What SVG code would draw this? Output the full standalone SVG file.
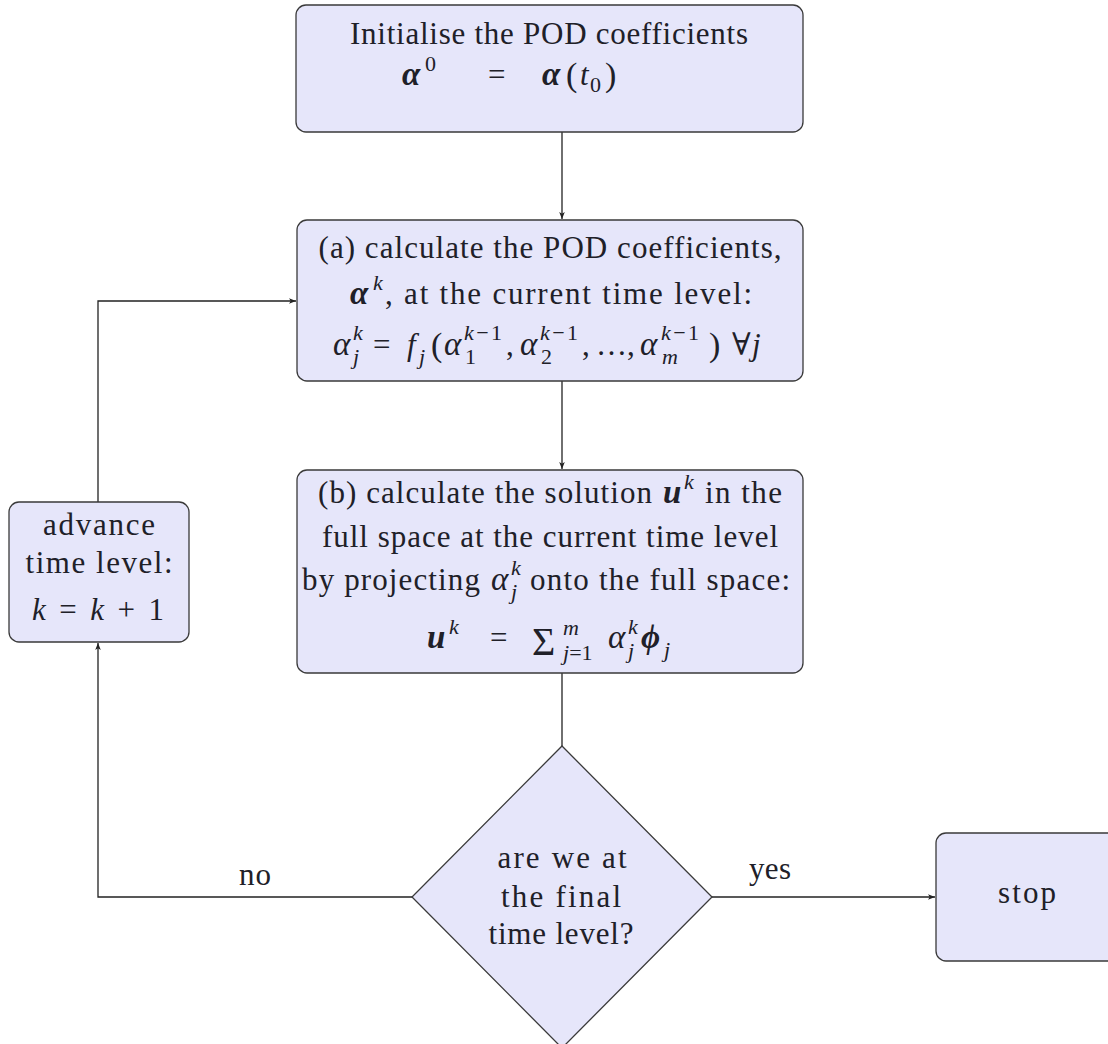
<svg xmlns="http://www.w3.org/2000/svg" width="1108" height="1044" viewBox="0 0 1108 1044" font-family="'Liberation Serif', 'Times New Roman', 'DejaVu Serif', serif">
  <style>
    .box { fill: #e6e6fa; stroke: #3a3a3a; stroke-width: 1.3; }
    .edge { fill: none; stroke: #222; stroke-width: 1.3; }
    text { font-family: 'Liberation Serif', 'Times New Roman', 'DejaVu Serif', serif; font-size: 31px; fill: #202028; }
    .c { text-anchor: middle; }
    .m { font-style: italic; }
    .g { font-style: italic; font-size: 33px; }
    .b { font-style: italic; font-weight: bold; font-size: 33px; }
    .s { font-size: 22px; }
    .big { font-size: 34px; }
    .sum { font-size: 40px; }
  </style>
  <defs>
    <marker id="arrow" viewBox="0 0 10 10" refX="10" refY="5" markerWidth="8" markerHeight="7" markerUnits="userSpaceOnUse" orient="auto">
      <path d="M0,1 L10,5 L0,9 L2.5,5 Z" fill="#222"/>
    </marker>
  </defs>

  <!-- connectors -->
  <g id="connectors">
    <line class="edge" x1="562" y1="132" x2="562" y2="219" marker-end="url(#arrow)"/>
    <line class="edge" x1="562" y1="381" x2="562" y2="469" marker-end="url(#arrow)"/>
    <line class="edge" x1="562" y1="673" x2="562" y2="746"/>
    <polyline class="edge" points="412,897 98,897 98,643" marker-end="url(#arrow)"/>
    <polyline class="edge" points="98,502 98,301 296,301" marker-end="url(#arrow)"/>
    <line class="edge" x1="712" y1="897" x2="935" y2="897" marker-end="url(#arrow)"/>
    <text class="c" x="255" y="885" textLength="32">no</text>
    <text class="c" x="770" y="879" textLength="42">yes</text>
  </g>

  <!-- initialisation -->
  <g id="init">
    <rect class="box" x="296" y="5" width="507" height="127" rx="10"/>
    <text class="c" x="549" y="44" textLength="398">Initialise the POD coefficients</text>
    <text x="402" y="85" class="b">α</text>
    <text x="425" y="71" class="s">0</text>
    <text x="488" y="85">=</text>
    <text x="542" y="85" class="b">α</text>
    <text x="566" y="86" class="big">(</text>
    <text x="580" y="85" class="m">t</text>
    <text x="590" y="92" class="s">0</text>
    <text x="605" y="86" class="big">)</text>
  </g>

  <!-- step (a) -->
  <g id="step-a">
    <rect class="box" x="297" y="220" width="506" height="161" rx="10"/>
    <text class="c" x="550" y="258" textLength="463">(a) calculate the POD coefficients,</text>
    <text x="350" y="304" class="b">α</text>
    <text x="373" y="290" class="s m">k</text>
    <text x="385" y="304" textLength="367">, at the current time level:</text>
    <!-- alpha_j^k = f_j(alpha_1^{k-1}, ..., alpha_m^{k-1}) for all j -->
    <text x="333" y="355" class="g">α</text>
    <text x="353" y="340" class="s m">k</text>
    <text x="353" y="364" class="s m">j</text>
    <text x="373" y="355">=</text>
    <text x="407" y="355" class="m">f</text>
    <text x="419" y="364" class="s m">j</text>
    <text x="431" y="356" class="big">(</text>
    <text x="444" y="355" class="g">α</text>
    <text x="464" y="340" class="s" textLength="38"><tspan class="m">k</tspan>−1</text>
    <text x="465" y="364" class="s">1</text>
    <text x="506" y="355">,</text>
    <text x="520" y="355" class="g">α</text>
    <text x="540" y="340" class="s" textLength="38"><tspan class="m">k</tspan>−1</text>
    <text x="541" y="364" class="s">2</text>
    <text x="582" y="355">,</text>
    <text x="596" y="355">…</text>
    <text x="627" y="355">,</text>
    <text x="640" y="355" class="g">α</text>
    <text x="661" y="340" class="s" textLength="38"><tspan class="m">k</tspan>−1</text>
    <text x="662" y="364" class="s m">m</text>
    <text x="709" y="356" class="big">)</text>
    <text x="732" y="355">∀</text>
    <text x="752" y="355" class="m">j</text>
  </g>

  <!-- step (b) -->
  <g id="step-b">
    <rect class="box" x="297" y="470" width="506" height="203" rx="10"/>
    <text x="318" y="503" textLength="334">(b) calculate the solution</text>
    <text x="663" y="503" class="b">u</text>
    <text x="684" y="489" class="s m">k</text>
    <text x="705" y="503" textLength="77">in the</text>
    <text class="c" x="550" y="547" textLength="456">full space at the current time level</text>
    <text x="302" y="590" textLength="178">by projecting</text>
    <text x="491" y="590" class="g">α</text>
    <text x="511" y="575" class="s m">k</text>
    <text x="511" y="599" class="s m">j</text>
    <text x="530" y="590" textLength="260">onto the full space:</text>
    <!-- u^k = sum_{j=1}^m alpha_j^k phi_j -->
    <text x="427" y="648" class="b">u</text>
    <text x="449" y="634" class="s m">k</text>
    <text x="490" y="648">=</text>
    <text x="532" y="655" class="sum">Σ</text>
    <text x="563" y="635" class="s m">m</text>
    <text x="563" y="660" class="s"><tspan class="m">j</tspan>=1</text>
    <text x="608" y="648" class="g">α</text>
    <text x="628" y="634" class="s m">k</text>
    <text x="628" y="658" class="s m">j</text>
    <text x="641" y="648" class="b">ϕ</text>
    <text x="664" y="657" class="s m">j</text>
  </g>

  <!-- advance time level -->
  <g id="advance">
    <rect class="box" x="9" y="502" width="180" height="140" rx="10"/>
    <text class="c" x="99" y="535" textLength="112">advance</text>
    <text class="c" x="99" y="573" textLength="147">time level:</text>
    <text class="c" x="98" y="620" textLength="132"><tspan class="m">k</tspan> = <tspan class="m">k</tspan> + 1</text>
  </g>

  <!-- decision -->
  <g id="decision">
    <polygon class="box" points="562,746 712,897 562,1048 412,897"/>
    <text class="c" x="562" y="868" textLength="129">are we at</text>
    <text class="c" x="561" y="907" textLength="120">the final</text>
    <text class="c" x="561" y="944" textLength="145">time level?</text>
  </g>

  <!-- stop -->
  <g id="stop">
    <rect class="box" x="936" y="833" width="200" height="128" rx="10"/>
    <text class="c" x="1027" y="903" textLength="58">stop</text>
  </g>
</svg>
